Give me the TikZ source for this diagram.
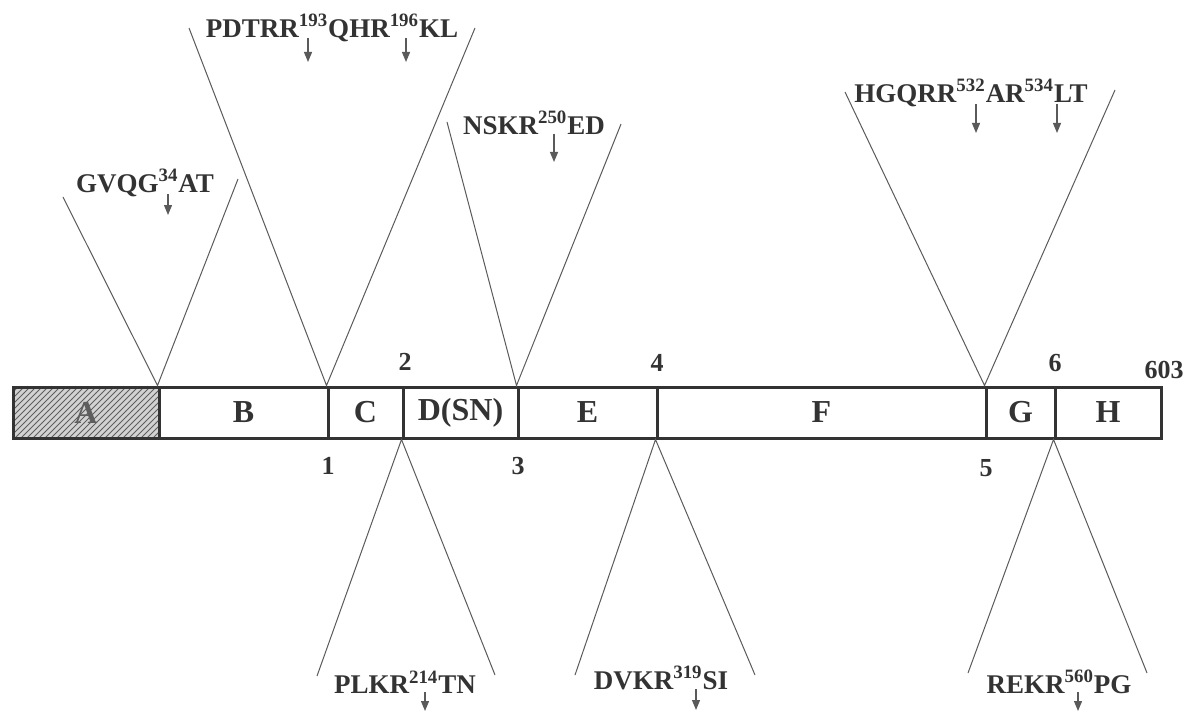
\documentclass[tikz,border=0pt]{standalone}
\usepackage{fontspec}
\setmainfont{Liberation Serif}
\usetikzlibrary{arrows.meta, patterns}
\definecolor{inkdark}{HTML}{333333}
\definecolor{inkline}{HTML}{5A5A5A}
\definecolor{hatchgray}{HTML}{5E5E5E}

\begin{document}
\begin{tikzpicture}[
    x=0.5pt, y=-0.5pt,
    seg/.style={draw=inkdark, line width=1.5pt, inner sep=0pt, minimum height=25.5pt,
        font=\fontsize{16}{18}\selectfont\bfseries, text=inkdark},
    wedge/.style={inkline, line width=0.5pt},
    site/.style={font=\fontsize{13.5}{15}\selectfont\bfseries, text=inkdark, inner sep=0pt},
    num/.style={font=\fontsize{13}{15}\selectfont\bfseries, text=inkdark, inner sep=0pt},
    cut/.style={-{Triangle[length=5pt, width=4pt]}, inkline, line width=0.6pt}
]
\useasboundingbox (0,0) rectangle (1186,711);

% 1. Domain bar
\node[seg, minimum width=73pt, text=hatchgray,
    preaction={fill=gray!35}, pattern=north east lines, pattern color=hatchgray]
    (A) at (86,412.5) {A};
\foreach \xl/\xr/\nm/\txt in {159/328/B/B, 328/403/C/C, 403/518/D/D(SN), 518/657/E/E,
                               657/986/F/F, 986/1055/G/G, 1055/1161/H/H} {
    \node[seg, minimum width={(\xr-\xl)*0.5pt}] (\nm) at ({(\xl+\xr)/2},412.5) {\txt};
}

% 2. Cleavage site numbers
\node[num] (n1) at (328,466) {1};
\node[num] (n2) at (405,362) {2};
\node[num] (n3) at (518,466) {3};
\node[num] (n4) at (657,363) {4};
\node[num] (n5) at (986,468) {5};
\node[num] (n6) at (1055,363) {6};
\node[num] (n603) at (1164,370) {603};

% 3. Upper wedges
\coordinate (wAl) at (63,197);   \coordinate (wAr) at (238,179);
\coordinate (wCl) at (189,28);   \coordinate (wCr) at (475,28);
\coordinate (wEl) at (447,122);  \coordinate (wEr) at (621,124);
\coordinate (wGl) at (845,92);   \coordinate (wGr) at (1115,90);
\draw[wedge] (wAl) -- (B.north west) -- (wAr);
\draw[wedge] (wCl) -- (C.north west) -- (wCr);
\draw[wedge] (wEl) -- (E.north west) -- (wEr);
\draw[wedge] (wGl) -- (G.north west) -- (wGr);

% 4. Lower wedges
\coordinate (wDl) at (317,676);  \coordinate (wDr) at (495,675);
\coordinate (wFl) at (575,675);  \coordinate (wFr) at (755,675);
\coordinate (wHl) at (968,673);  \coordinate (wHr) at (1147,673);
\draw[wedge] (wDl) -- (D.south west) -- (wDr);
\draw[wedge] (wFl) -- (F.south west) -- (wFr);
\draw[wedge] (wHl) -- (H.south west) -- (wHr);

% 5. Sequences at the sites
\node[site] (gvqg) at (145,183) {GVQG\textsuperscript{34}AT};
\node[site] (pdtrr) at (332,28) {PDTRR\textsuperscript{193}QHR\textsuperscript{196}KL};
\node[site] (nskr) at (534,123) {NSKR\textsuperscript{250}ED};
\node[site] (hgqrr) at (971,93) {HGQRR\textsuperscript{532}AR\textsuperscript{534}LT};
\node[site] (plkr) at (405,682) {PLKR\textsuperscript{214}TN};
\node[site] (dvkr) at (661,678) {DVKR\textsuperscript{319}SI};
\node[site] (rekr) at (1059,682) {REKR\textsuperscript{560}PG};

% 6. Cut arrows
\coordinate (s34) at (168,194);
\coordinate (s193) at (308,38);  \coordinate (s196) at (406,38);
\coordinate (s250) at (554,134);
\coordinate (s532) at (976,104); \coordinate (s534) at (1057,104);
\coordinate (s214) at (425,692);
\coordinate (s319) at (696,689);
\coordinate (s560) at (1078,692);
\draw[cut] (s34) -- ++(0,21);
\draw[cut] (s193) -- ++(0,24);
\draw[cut] (s196) -- ++(0,24);
\draw[cut] (s250) -- ++(0,28);
\draw[cut] (s532) -- ++(0,29);
\draw[cut] (s534) -- ++(0,29);
\draw[cut] (s214) -- ++(0,19);
\draw[cut] (s319) -- ++(0,21);
\draw[cut] (s560) -- ++(0,19);

\end{tikzpicture}
\end{document}
